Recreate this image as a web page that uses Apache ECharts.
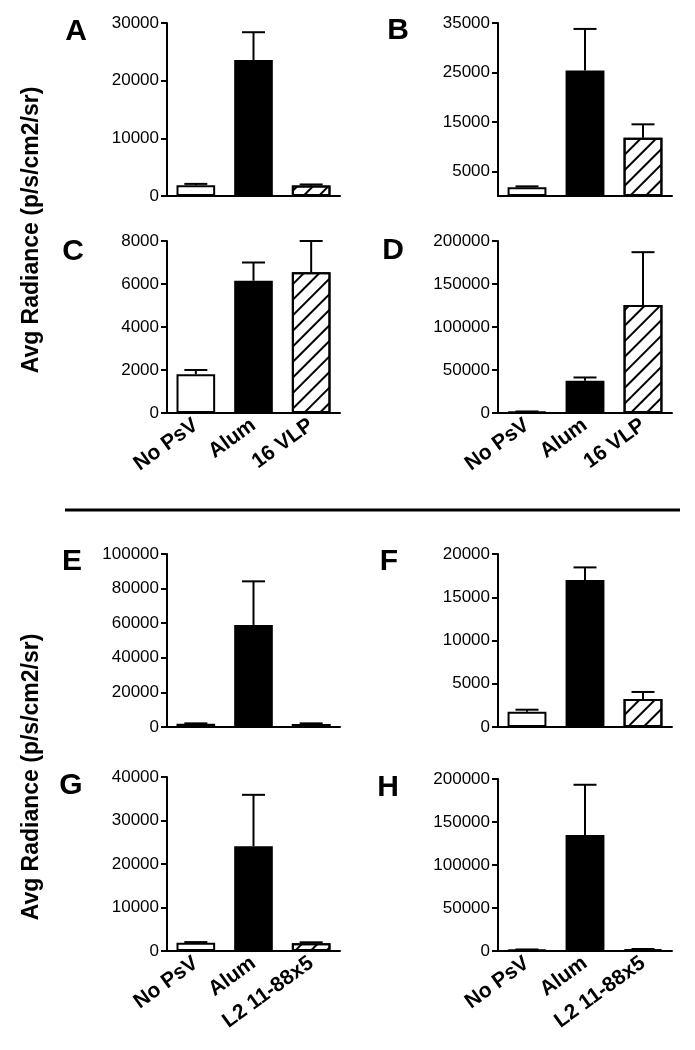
<!DOCTYPE html>
<html><head><meta charset="utf-8">
<script src="https://cdn.jsdelivr.net/npm/echarts@6/dist/echarts.min.js"></script>
<style>html,body{margin:0;padding:0;background:#fff}#c{width:695px;height:1050px}</style>
</head><body><div id="c"></div>
<script>
// ---- data ----
const catsTop = ['No PsV', 'Alum', '16 VLP'];
const catsBottom = ['No PsV', 'Alum', 'L2 11-88x5'];

const meanA = [1850, 23600, 1800];   const semA = [250, 4800, 200];
const meanB = [1750, 25400, 11800];  const semB = [200, 8400, 2700];
const meanC = [1800, 6150, 6550];    const semC = [200, 850, 1450];
const meanD = [1500, 37500, 125500]; const semD = [300, 3800, 61500];
const meanE = [1900, 59000, 1800];   const semE = [200, 25200, 300];
const meanF = [1750, 17000, 3250];   const semF = [250, 1450, 800];
const meanG = [1900, 24100, 1800];   const semG = [150, 11800, 200];
const meanH = [1500, 134800, 2000];  const semH = [300, 58500, 300];

const ticksB = [5000, 15000, 25000, 35000];
const yTitle = 'Avg Radiance (p/s/cm2/sr)';

// ---- layout ----
const panels = [
  {letter:'A', cats:catsTop,    mean:meanA, sem:semA, max:30000,  interval:10000, labels:false, g:{left:167,top:23,width:173,height:173}, lp:[76,32]},
  {letter:'B', cats:catsTop,    mean:meanB, sem:semB, max:35000,  custom:ticksB,  labels:false, g:{left:498,top:23,width:174,height:173}, lp:[398,31]},
  {letter:'C', cats:catsTop,    mean:meanC, sem:semC, max:8000,   interval:2000,  labels:true,  g:{left:167,top:241,width:173,height:172}, lp:[73,252]},
  {letter:'D', cats:catsTop,    mean:meanD, sem:semD, max:200000, interval:50000, labels:true,  g:{left:498,top:241,width:174,height:172}, lp:[393,251]},
  {letter:'E', cats:catsBottom, mean:meanE, sem:semE, max:100000, interval:20000, labels:false, g:{left:167,top:554,width:173,height:173}, lp:[72,562]},
  {letter:'F', cats:catsBottom, mean:meanF, sem:semF, max:20000,  interval:5000,  labels:false, g:{left:498,top:554,width:174,height:173}, lp:[389,562]},
  {letter:'G', cats:catsBottom, mean:meanG, sem:semG, max:40000,  interval:10000, labels:true,  g:{left:167,top:777,width:173,height:174}, lp:[71,786]},
  {letter:'H', cats:catsBottom, mean:meanH, sem:semH, max:200000, interval:50000, labels:true,  g:{left:498,top:779,width:174,height:172}, lp:[388,788]}
];

const FONT = '"Liberation Sans", Arial, sans-serif';
const barStyles = [
  {color:'#fff', borderColor:'#000', borderWidth:2},
  {color:'#000', borderColor:'#000', borderWidth:2},
  {color:'#fff', borderColor:'#000', borderWidth:2,
   decal:{symbol:'rect', symbolSize:1, dashArrayX:[1,0], dashArrayY:[2,9], rotation:-Math.PI/4, color:'#000', backgroundColor:'rgba(0,0,0,0)'}}
];

const grid = [], xAxis = [], yAxis = [], series = [], graphic = [];
panels.forEach((p, i) => {
  grid.push(Object.assign({containLabel:false}, p.g));
  xAxis.push({
    type:'category', gridIndex:i, data:p.cats,
    axisLine:{lineStyle:{color:'#000', width:2}},
    axisTick:{alignWithLabel:true, length:7, lineStyle:{color:'#000', width:2}},
    axisLabel:{show:p.labels, interval:0, rotate:36, color:'#000', fontWeight:'bold', fontSize:21, fontFamily:FONT, margin:10}
  });
  const y = {
    type:'value', gridIndex:i, min:0, max:p.max,
    axisLine:{show:true, lineStyle:{color:'#000', width:2}},
    axisTick:{show:true, length:6, lineStyle:{color:'#000', width:2}},
    axisLabel:{color:'#000', fontSize:17, fontFamily:FONT, margin:8, formatter:v => String(v)},
    splitLine:{show:false}
  };
  if (p.custom) {
    y.axisLabel.customValues = p.custom;
    y.axisTick.customValues = p.custom;
  } else {
    y.interval = p.interval;
  }
  yAxis.push(y);
  series.push({
    type:'bar', xAxisIndex:i, yAxisIndex:i, barCategoryGap:'33%', z:3,
    data:p.mean.map((v, j) => ({value:v, itemStyle:barStyles[j]})),
    silent:true, animation:false
  });
  series.push({
    type:'custom', xAxisIndex:i, yAxisIndex:i, z:2, animation:false, silent:true, clip:false,
    data:p.mean.map((v, j) => [j, v, v + p.sem[j]]),
    encode:{x:0, y:[1, 2]},
    renderItem:(params, api) => {
      const b = api.coord([api.value(0), api.value(1)]);
      const t = api.coord([api.value(0), api.value(2)]);
      const hw = 11.5;
      return {type:'group', children:[
        {type:'line', shape:{x1:b[0], y1:b[1], x2:t[0], y2:t[1]}, style:{stroke:'#000', lineWidth:2}},
        {type:'line', shape:{x1:t[0]-hw, y1:t[1], x2:t[0]+hw, y2:t[1]}, style:{stroke:'#000', lineWidth:2}}
      ]};
    }
  });
  graphic.push({type:'text', x:p.lp[0], y:p.lp[1],
    style:{text:p.letter, font:'bold 30px ' + FONT, fill:'#000', align:'center', verticalAlign:'middle'}});
});

graphic.push({type:'line', shape:{x1:65, y1:510, x2:680, y2:510}, style:{stroke:'#000', lineWidth:3}});
[230, 777].forEach(cy => graphic.push({type:'text', x:32, y:cy, rotation:Math.PI/2,
  style:{text:yTitle, font:'bold 23px ' + FONT, fill:'#000', align:'center', verticalAlign:'middle'}}));

const chart = echarts.init(document.getElementById('c'), null, {renderer:'canvas'});
chart.setOption({backgroundColor:'#fff', animation:false, grid, xAxis, yAxis, series, graphic});
</script></body></html>
